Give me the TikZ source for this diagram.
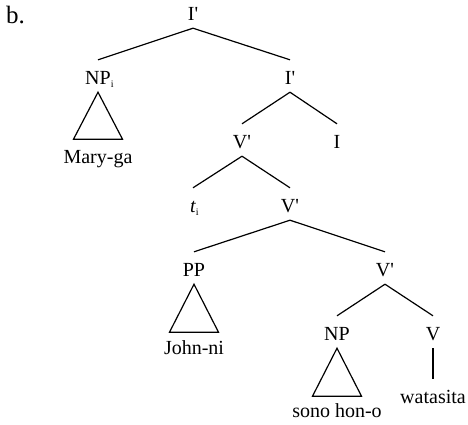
\documentclass[tikz,border=0pt]{standalone}
\usepackage{fontspec}
\setmainfont{Liberation Serif}[Ligatures=TeXOff]
\newcommand{\labfont}{\fontsize{20}{23}\selectfont}
\newcommand{\subi}{\rlap{\raisebox{-0.35ex}{\fontsize{10}{10}\selectfont i}}}
\begin{document}
\begin{tikzpicture}[x=1pt,y=-1pt,
  lab/.style={anchor=base, inner xsep=0pt, inner ysep=8pt, text height=16pt, text depth=0pt, font=\labfont},
  leaf/.style={anchor=base, inner sep=0pt, font=\labfont},
  edge/.style={line width=1.2pt},
  tri/.style={line width=1.2pt, line join=miter}]
\useasboundingbox (0,0) rectangle (468,424);
\node[anchor=base west, inner sep=0pt, font=\fontsize{25}{28}\selectfont] (lbl) at (6,23) {b.};
% nodes
\node[lab] (ip1) at (193,20) {I'};
\node[lab] (npi) at (98,84) {NP\subi};
\node[lab] (ip2) at (290,84) {I'};
\node[lab] (vp1) at (242,148) {V'};
\node[lab] (i) at (337,148) {I};
\node[lab] (ti) at (193,212) {\textit{t}\subi};
\node[lab] (vp2) at (290,212) {V'};
\node[lab] (pp) at (194,276) {PP};
\node[lab] (vp3) at (385,276) {V'};
\node[lab] (np) at (337,340) {NP};
\node[lab] (v) at (433,340) {V};
\node[leaf] (mary) at (98,163) {Mary-ga};
\node[leaf] (john) at (194,354) {John-ni};
\node[leaf] (sono) at (337,417) {sono hon-o};
\node[lab] (wat) at (433,403) {watasita};
% edges
\draw[edge] (ip1.south) -- (npi.north);
\draw[edge] (ip1.south) -- (ip2.north);
\draw[edge] (ip2.south) -- (vp1.north);
\draw[edge] (ip2.south) -- (i.north);
\draw[edge] (vp1.south) -- (ti.north);
\draw[edge] (vp1.south) -- (vp2.north);
\draw[edge] (vp2.south) -- (pp.north);
\draw[edge] (vp2.south) -- (vp3.north);
\draw[edge] (vp3.south) -- (np.north);
\draw[edge] (vp3.south) -- (v.north);
\draw[edge] (v.south) -- (wat.north);
% triangles
\draw[tri] (npi.south) -- ++(-24.5,47) -- ++(49,0) -- cycle;
\draw[tri] (pp.south) -- ++(-24.5,48) -- ++(49,0) -- cycle;
\draw[tri] (np.south) -- ++(-24.5,48) -- ++(49,0) -- cycle;
\end{tikzpicture}
\end{document}
